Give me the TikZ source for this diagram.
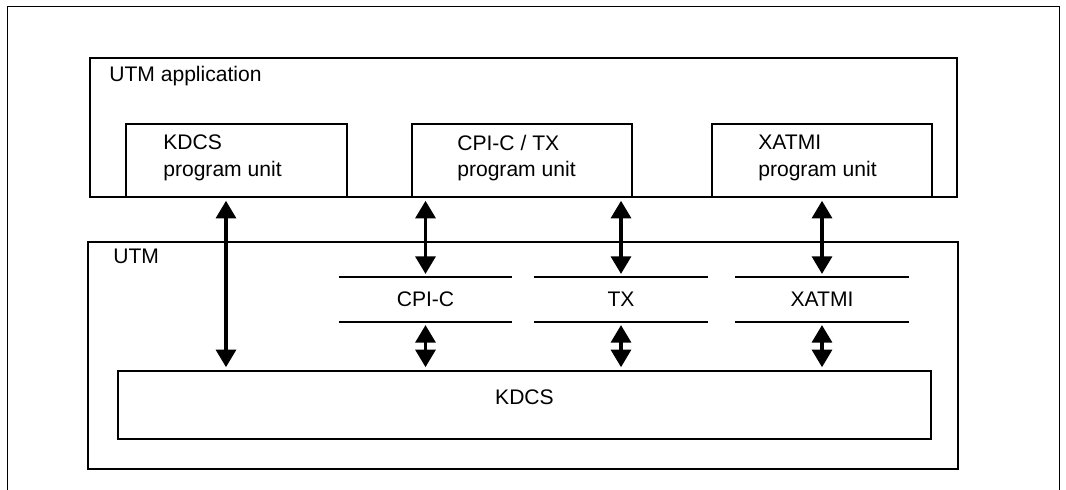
\documentclass[tikz,border=0pt]{standalone}
\usepackage{fontspec}
\setmainfont{Liberation Sans}
\usetikzlibrary{arrows.meta,fit}

\begin{document}
\begin{tikzpicture}[x=0.025cm,y=-0.025cm,
        box/.style={draw,line width=1.4pt,inner sep=0pt,font=\fontsize{15}{19}\selectfont},
        txt/.style={anchor=west,inner sep=0pt,align=left,font=\fontsize{15}{19}\selectfont},
        layer/.style={inner sep=0pt,minimum width=4.325cm,minimum height=1.125cm,font=\fontsize{15}{19}\selectfont},
        both/.style={{Triangle[width=0.5cm,length=0.44cm]}-{Triangle[width=0.5cm,length=0.44cm]},
            line width=2.4pt,shorten <=0.07cm,shorten >=0.07cm}]
        \useasboundingbox (0,0) rectangle (1066,490);
        \draw[line width=0.7pt] (7,490) -- (7,6) -- (1059,6) -- (1059,490);
        % application side
        \node[box, fit={(90,58) (957,197)}] (app) {};
        \node[txt] (apptxt) at (109,76) {UTM application};
        \node[box, fit={(126,124) (347,197)}] (kdcspu) {};
        \node[box, fit={(412,124) (632,197)}] (cputx) {};
        \node[box, fit={(712,124) (932,197)}] (xatmipu) {};
        \node[txt] (kdcspuTxt) at (163,158) {KDCS\\program unit};
        \node[txt] (cputxTxt) at (457,158) {CPI-C / TX\\program unit};
        \node[txt] (xatmipuTxt) at (758,158) {XATMI\\program unit};
        % UTM side
        \node[box, fit={(88,242) (958,469)}] (utm) {};
        \node[txt] (utmtxt) at (113,256) {UTM};
        \node[box, fit={(118,371) (931,439)}] (kdcs) {KDCS};
        \node[layer] (cpic) at (425.5,299.5) {CPI-C};
        \node[layer] (tx) at (621,299.5) {TX};
        \node[layer] (xatmi) at (822,299.5) {XATMI};
        \foreach \l/\p in {cpic/cputx, tx/cputx, xatmi/xatmipu} {
            \draw[line width=1.4pt] (\l.north west) -- (\l.north east);
            \draw[line width=1.4pt] (\l.south west) -- (\l.south east);
            \draw[both] (\l.north |- \p.south) -- (\l.north);
            \draw[both] (\l.south) -- (\l.south |- kdcs.north);
        }
        \coordinate (kdcsarr) at ([xshift=-0.2625cm]kdcspu.south);
        \draw[both] (kdcsarr) -- (kdcsarr |- kdcs.north);
\end{tikzpicture}
\end{document}
